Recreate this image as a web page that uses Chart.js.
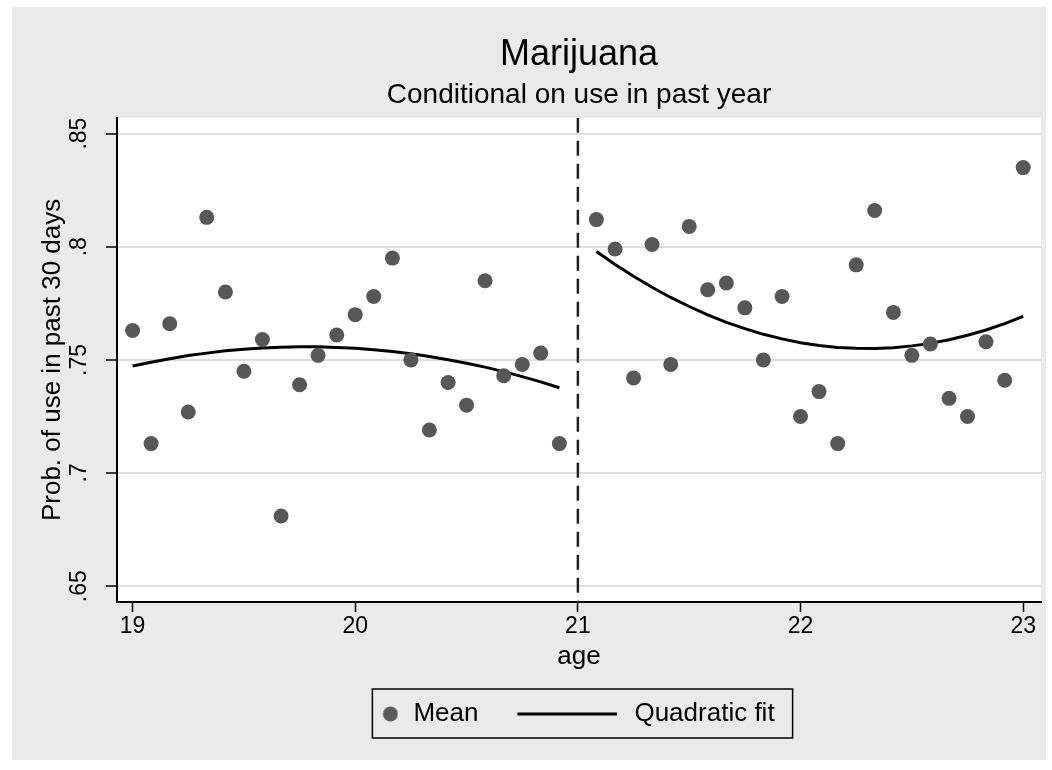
<!DOCTYPE html>
<html lang="en">
<head>
<meta charset="utf-8" />
<title>Marijuana</title>
<script src="https://cdn.jsdelivr.net/npm/chart.js@4.4.0/dist/chart.umd.min.js"></script>
<style>
  body { margin: 0; background: #fff; }
</style>
</head>
<body>
<canvas id="chart" width="1052" height="770"></canvas>
<script>
// monthly ages, left and right of the 21 cutoff
var agesLeft = [19, 19.083, 19.167, 19.25, 19.333, 19.417, 19.5, 19.583, 19.667, 19.75, 19.833, 19.917,
                20, 20.083, 20.167, 20.25, 20.333, 20.417, 20.5, 20.583, 20.667, 20.75, 20.833, 20.917];
var agesRight = [21.083, 21.167, 21.25, 21.333, 21.417, 21.5, 21.583, 21.667, 21.75, 21.833, 21.917, 22,
                 22.083, 22.167, 22.25, 22.333, 22.417, 22.5, 22.583, 22.667, 22.75, 22.833, 22.917, 23];

var meanLeft = [0.763, 0.713, 0.766, 0.727, 0.813, 0.780, 0.745, 0.759, 0.681, 0.739, 0.752, 0.761,
                0.770, 0.778, 0.795, 0.750, 0.719, 0.740, 0.730, 0.785, 0.743, 0.748, 0.753, 0.713];
var meanRight = [0.812, 0.799, 0.742, 0.801, 0.748, 0.809, 0.781, 0.784, 0.773, 0.750, 0.778, 0.725,
                 0.736, 0.713, 0.792, 0.816, 0.771, 0.752, 0.757, 0.733, 0.725, 0.758, 0.741, 0.835];

var fitLeft = [0.7473, 0.7490, 0.7505, 0.7519, 0.7530, 0.7540, 0.7547, 0.7553, 0.7556, 0.7558, 0.7558, 0.7555,
               0.7551, 0.7545, 0.7537, 0.7527, 0.7515, 0.7501, 0.7485, 0.7468, 0.7448, 0.7426, 0.7403, 0.7377];
var fitRight = [0.7979, 0.7922, 0.7870, 0.7821, 0.7776, 0.7736, 0.7699, 0.7666, 0.7638, 0.7613, 0.7593, 0.7576,
                0.7564, 0.7555, 0.7551, 0.7550, 0.7554, 0.7562, 0.7573, 0.7589, 0.7609, 0.7632, 0.7660, 0.7692];

var cutoff = 21;
var xTicks = [19, 20, 21, 22, 23];
var yTicks = [0.65, 0.7, 0.75, 0.8, 0.85];
var yTickLabels = ['.65', '.7', '.75', '.8', '.85'];

var FONT = "'Liberation Sans', Arial, sans-serif";
var yMin = 0.643, yMax = 0.857;
var symW = 134; // legend symbol slot

function pts(xs, ys) {
  return xs.map(function (x, i) { return { x: x, y: ys[i] }; });
}

// legend symbols
function meanSymbol() {
  var c = document.createElement('canvas');
  c.width = 130; c.height = 16;
  var g = c.getContext('2d');
  g.fillStyle = '#595959';
  g.beginPath(); g.arc(122, 8, 7.5, 0, Math.PI * 2); g.fill();
  return c;
}
function fitSymbol() {
  var c = document.createElement('canvas');
  c.width = 126; c.height = 4;
  var g = c.getContext('2d');
  g.fillStyle = '#000';
  g.fillRect(26, 0.5, 100, 3);
  return c;
}

var panel = {
  id: 'panel',
  beforeDraw: function (chart) {
    var ctx = chart.ctx, a = chart.chartArea;
    ctx.save();
    ctx.fillStyle = '#fff';
    ctx.fillRect(0, 0, chart.width, chart.height);
    ctx.fillStyle = '#eaeaea';
    ctx.fillRect(12, 7, chart.width - 18, chart.height - 17);
    ctx.fillStyle = '#fff';
    ctx.fillRect(a.left, a.top, a.right - a.left, a.bottom - a.top);
    ctx.restore();
  }
};

var legendFrame = {
  id: 'legendFrame',
  afterDraw: function (chart) {
    var hb = chart.legend.legendHitBoxes;
    if (!hb || !hb.length) return;
    var first = hb[0], last = hb[hb.length - 1];
    var x1 = first.left + symW - 28;
    var x2 = last.left + last.width + 18;
    var cy = first.top + first.height / 2;
    var ctx = chart.ctx;
    ctx.save();
    ctx.strokeStyle = '#000';
    ctx.lineWidth = 1.5;
    ctx.strokeRect(x1, cy - 25, x2 - x1, 49);
    ctx.restore();
  }
};

var ctx = document.getElementById('chart').getContext('2d');
var chart = new Chart(ctx, {
  type: 'scatter',
  data: {
    datasets: [
      {
        label: 'Mean',
        data: pts(agesLeft, meanLeft).concat(pts(agesRight, meanRight)),
        backgroundColor: '#575757',
        borderWidth: 0,
        pointRadius: 7.5
      },
      {
        label: 'Quadratic fit',
        data: pts(agesLeft, fitLeft),
        showLine: true,
        borderColor: '#000',
        borderWidth: 3,
        pointRadius: 0
      },
      {
        label: 'Quadratic fit (right)',
        data: pts(agesRight, fitRight),
        showLine: true,
        borderColor: '#000',
        borderWidth: 3,
        pointRadius: 0
      },
      {
        label: 'cutoff',
        data: [{ x: cutoff, y: yMax }, { x: cutoff, y: yMin }],
        showLine: true,
        borderColor: '#222',
        borderWidth: 2.5,
        borderDash: [15, 8],
        pointRadius: 0
      }
    ]
  },
  options: {
    responsive: false,
    animation: false,
    devicePixelRatio: 1,
    layout: { padding: { top: 0, right: 11, bottom: 33, left: 0 } },
    scales: {
      x: {
        type: 'linear',
        min: 18.93,
        max: 23.08,
        afterBuildTicks: function (s) { s.ticks = xTicks.map(function (v) { return { value: v }; }); },
        afterFit: function (s) { s.height = 90; },
        grid: { drawOnChartArea: false, drawTicks: true, tickLength: 10, tickColor: '#000', tickWidth: 1.5 },
        border: { color: '#000', width: 2 },
        ticks: { color: '#000', font: { family: FONT, size: 23 }, padding: 1, maxRotation: 0, autoSkip: false },
        title: { display: true, text: 'age', color: '#000', font: { family: FONT, size: 26 }, padding: { top: 0, bottom: 20 } }
      },
      y: {
        min: yMin,
        max: yMax,
        afterBuildTicks: function (s) { s.ticks = yTicks.map(function (v) { return { value: v }; }); },
        afterFit: function (s) { s.width = 117; },
        grid: { color: '#dedede', lineWidth: 2, tickLength: 11, tickColor: '#000', tickWidth: 1.5 },
        border: { color: '#000', width: 2 },
        ticks: {
          color: '#000',
          font: { family: FONT, size: 23 },
          minRotation: 90,
          maxRotation: 90,
          crossAlign: 'center',
          padding: 10,
          autoSkip: false,
          callback: function (v) {
            var i = yTicks.indexOf(v);
            return i >= 0 ? yTickLabels[i] : '';
          }
        },
        title: {
          display: true,
          text: 'Prob. of use in past 30 days',
          color: '#000',
          font: { family: FONT, size: 26 },
          padding: { top: 37, bottom: 0 }
        }
      }
    },
    plugins: {
      title: {
        display: true,
        fullSize: false,
        text: 'Marijuana',
        color: '#000',
        font: { family: FONT, size: 36, weight: 'normal', lineHeight: 1.2 },
        padding: { top: 33, bottom: 0 }
      },
      subtitle: {
        display: true,
        fullSize: false,
        text: 'Conditional on use in past year',
        color: '#000',
        font: { family: FONT, size: 28, weight: 'normal', lineHeight: 1.2 },
        padding: { top: 2, bottom: 6 }
      },
      legend: {
        position: 'bottom',
        labels: {
          color: '#000',
          font: { family: FONT, size: 26 },
          usePointStyle: true,
          pointStyleWidth: symW,
          boxHeight: 10,
          padding: 9,
          generateLabels: function () {
            return [
              { text: 'Mean', pointStyle: meanSymbol(), fillStyle: '#575757', strokeStyle: '#575757', lineWidth: 0, hidden: false, datasetIndex: 0 },
              { text: 'Quadratic fit', pointStyle: fitSymbol(), fillStyle: '#000', strokeStyle: '#000', lineWidth: 0, hidden: false, datasetIndex: 1 }
            ];
          }
        }
      },
      tooltip: { enabled: false }
    }
  },
  plugins: [panel, legendFrame]
});
</script>
</body>
</html>
